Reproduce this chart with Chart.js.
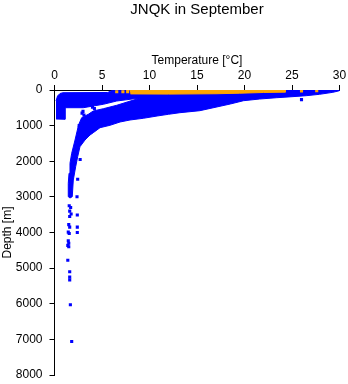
<!DOCTYPE html>
<html><head><meta charset="utf-8">
<script src="https://cdn.jsdelivr.net/npm/chart.js@4.4.0/dist/chart.umd.min.js"></script>
<style>html,body{margin:0;padding:0;background:#fff}#wrap{width:348px;height:384px}</style>
</head><body><div id="wrap"><canvas id="c" width="348" height="384"></canvas></div>
<script>
const chartTitle = 'JNQK in September';
const xAxisTitle = 'Temperature [°C]';
const yAxisTitle = 'Depth [m]';
const xTicks = [0, 5, 10, 15, 20, 25, 30];
const yTicks = [0, 1000, 2000, 3000, 4000, 5000, 6000, 7000, 8000];

// envelope of the dense cloud of blue observations (temperature, depth)
const blueEnvelopeT = [0.16,0.32,0.58,0.89,5.6,6.0,7.9,30,30,29.3,27.9,26.5,25.0,23.4,21.6,19.9,18.5,15.3,13.2,12.0,10.8,9.35,7.95,6.9,5.84,4.79,4.08,3.74,3.21,2.68,2.44,2.23,1.98,1.87,1.63,1.45,1.45,1.53,1.63,1.81,2.16,2.53,2.86,3.56,4.08,5.14,6.55,9.0,6.55,5.14,4.08,3.03,1.1,1.1,0.16];
const blueEnvelopeD = [309,168,98,76,70,20,0,0,20,65,121,160,188,216,253,300,393,581,637,682,730,794,842,898,991,1058,1199,1263,1404,1592,1872,2153,2526,2995,3032,2995,2619,2338,2058,1777,1404,982,778,682,589,525,429,225,309,401,449,497,497,822,814];
// isolated blue observations
const blueSpotT = [3.0,3.1,2.9,2.6,4.0,4.2,2.7,2.44,2.37,1.55,1.7,1.6,1.75,1.6,2.4,2.4,2.4,1.5,1.6,1.45,1.55,1.45,1.5,1.4,1.5,1.4,1.6,1.6,1.6,1.67,1.81,26.0];
const blueSpotD = [600,700,650,1000,480,520,1950,2507,2995,3250,3300,3400,3480,3550,3510,3850,4000,3780,3850,3990,4030,4230,4300,4360,4400,4780,5100,5250,5330,6030,7060,270];
// envelope of the orange surface observations
const orangeEnvelopeT = [7.9,24.3,24.3,22.0,19.5,17.0,12.0,8.0];
const orangeEnvelopeD = [0,0,60,70,90,105,115,110];
const orangeSpotT = [6.55,7.2,7.7,26.0,27.6];
const orangeSpotD = [50,50,45,30,20];

const BLUE = '#0000FF', ORANGE = '#FFA500';
const pts = (t, d) => t.map((v, i) => ({x: v, y: d[i]}));

Chart.defaults.font.family = '"Liberation Sans", Arial, Helvetica, sans-serif';
Chart.defaults.color = '#000';

new Chart(document.getElementById('c'), {
  type: 'scatter',
  data: {
    datasets: [
      {data: pts(orangeSpotT, orangeSpotD), backgroundColor: ORANGE, pointStyle: 'rect', pointRadius: 2.2, borderWidth: 0},
      {data: pts(orangeEnvelopeT, orangeEnvelopeD), showLine: true, fill: 'shape', backgroundColor: ORANGE, borderColor: ORANGE, borderWidth: 1, pointRadius: 0},
      {data: pts(blueSpotT, blueSpotD), backgroundColor: BLUE, pointStyle: 'rect', pointRadius: 2.2, borderWidth: 0},
      {data: pts(blueEnvelopeT, blueEnvelopeD), showLine: true, fill: 'shape', backgroundColor: BLUE, borderColor: BLUE, borderWidth: 1, pointRadius: 0}
    ]
  },
  options: {
    responsive: false,
    animation: false,
    events: [],
    layout: {padding: {left: 0, top: 0, right: 8.5, bottom: 9}},
    plugins: {
      legend: {display: false},
      tooltip: {enabled: false},
      title: {display: true, text: chartTitle, fullSize: false, color: '#000',
        font: {size: 15, weight: 'normal', lineHeight: 1}, padding: {top: 2, bottom: 0}}
    },
    scales: {
      x: {
        type: 'linear', position: 'top', min: 0, max: 30,
        afterBuildTicks: s => { s.ticks = xTicks.map(v => ({value: v})); },
        afterFit: s => { s.height = 73; s.paddingLeft = 0; s.paddingRight = 0; s.paddingTop = 0; s.paddingBottom = 0; },
        grid: {drawOnChartArea: false, drawTicks: true, tickLength: 5, color: '#000'},
        border: {display: true, color: '#000', width: 1},
        ticks: {padding: 2, font: {size: 12}, color: '#000', maxRotation: 0, callback: v => String(v)},
        title: {display: true, text: xAxisTitle, font: {size: 12}, color: '#000', padding: {top: 36.8, bottom: 0}}
      },
      y: {
        type: 'linear', position: 'left', reverse: true, min: 0, max: 8000,
        afterBuildTicks: s => { s.ticks = yTicks.map(v => ({value: v})); },
        afterFit: s => { s.width = 54.5; s.paddingLeft = 0; s.paddingRight = 0; s.paddingTop = 0; s.paddingBottom = 0; },
        grid: {drawOnChartArea: false, drawTicks: true, tickLength: 5, color: '#000'},
        border: {display: true, color: '#000', width: 1},
        ticks: {padding: 7, font: {size: 12}, color: '#000', callback: v => String(v)},
        title: {display: true, text: yAxisTitle, font: {size: 12}, color: '#000', padding: {top: 0.3, bottom: 0}}
      }
    }
  }
});
</script></body></html>
